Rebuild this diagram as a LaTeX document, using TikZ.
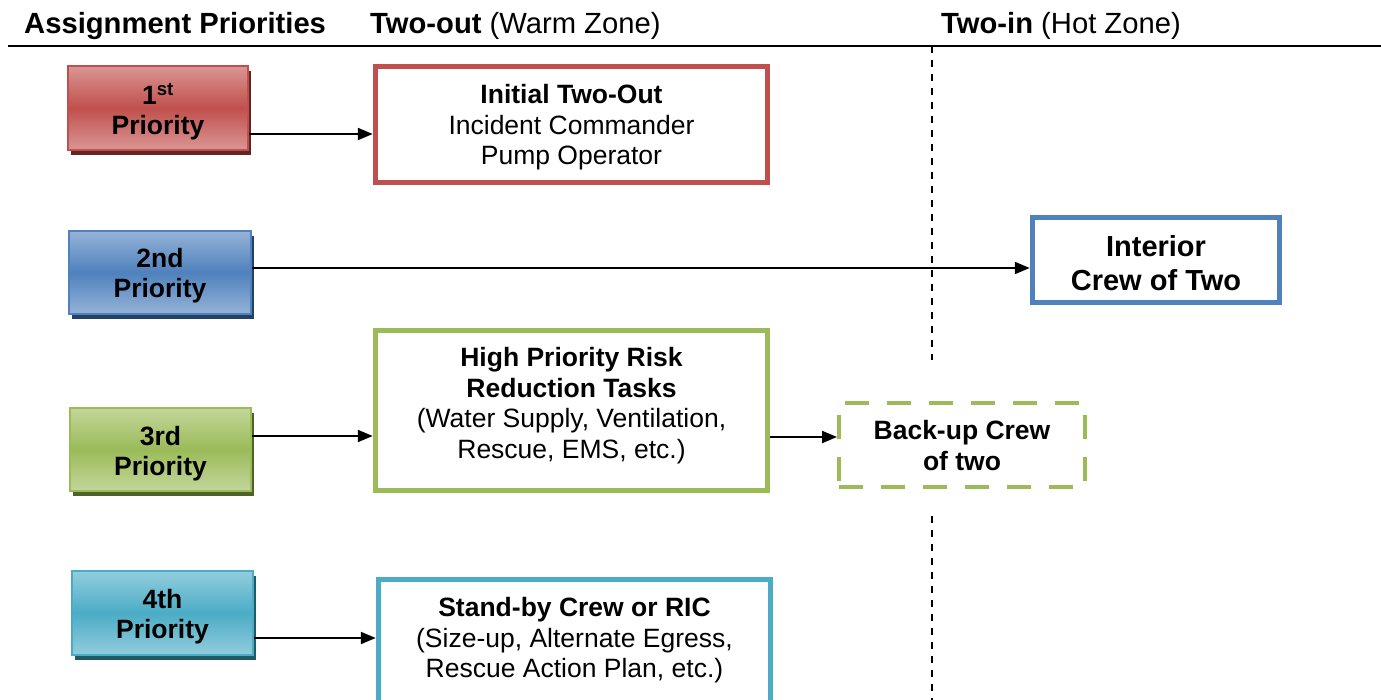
\documentclass[tikz,border=0pt]{standalone}
\usepackage{fontspec}
\setmainfont{Liberation Sans}
\usetikzlibrary{arrows.meta,shadows}
\definecolor{cred}{HTML}{C0504D}
\definecolor{credL}{HTML}{DA9694}
\definecolor{credD}{HTML}{632523}
\definecolor{cblue}{HTML}{4F81BD}
\definecolor{cblueL}{HTML}{95B3D7}
\definecolor{cblueD}{HTML}{244062}
\definecolor{cgreen}{HTML}{9BBB59}
\definecolor{cgreenL}{HTML}{C3D69B}
\definecolor{cgreenD}{HTML}{4F6228}
\definecolor{caqua}{HTML}{4BACC6}
\definecolor{caquaL}{HTML}{92CDDC}
\definecolor{caquaD}{HTML}{215967}
\begin{document}
\begin{tikzpicture}[x=1pt,y=-1pt,
  prio/.style n args={3}{draw=#1,line width=2pt,top color=#2,bottom color=#2,middle color=#1,
    drop shadow={shadow xshift=3pt,shadow yshift=-5pt,fill=#3,opacity=1},
    inner sep=0pt},
  ptxt/.style={align=center,inner sep=0pt,font=\bfseries\fontsize{26.5}{30}\selectfont},
  tbox/.style={draw=#1,line width=5.5pt,fill=white,inner sep=0pt},
  txt/.style={align=center,inner sep=0pt,font=\fontsize{26.5}{30.5}\selectfont},
  arr/.style={line width=2pt,-{Triangle[length=15pt,width=12pt]}},
  hdr/.style={anchor=base west,inner sep=0pt,font=\fontsize{29.2}{32}\selectfont}]
\clip (0,0) rectangle (1381,700);
% header
\node[hdr] (h1) at (24,34) {\textbf{Assignment Priorities}};
\node[hdr] (h2) at (370,34) {\textbf{Two-out} (Warm Zone)};
\node[hdr] (h3) at (941,34) {\textbf{Two-in} (Hot Zone)};
\coordinate (hl1) at (8,46);
\coordinate (hl2) at (1381,46);
\draw[line width=2.5pt] (hl1) -- (hl2);
% dashed zone separator
\coordinate (d1) at (932,46);
\coordinate (d2) at (932,360);
\coordinate (d3) at (932,516);
\coordinate (d4) at (932,700);
\draw[line width=2pt,dash pattern=on 7pt off 7pt] (d1) -- (d2);
\draw[line width=2pt,dash pattern=on 7pt off 7pt] (d3) -- (d4);
% priority boxes
\node[prio={cred}{credL}{credD},minimum width=180pt,minimum height=84pt] (p1) at (158,108) {};
\node[ptxt] (p1x) at (158,112) {1\textsuperscript{st}\\Priority};
\node[prio={cblue}{cblueL}{cblueD},minimum width=182pt,minimum height=83pt] (p2) at (160,272.5) {};
\node[ptxt] (p2x) at (160,275.5) {2nd\\Priority};
\node[prio={cgreen}{cgreenL}{cgreenD},minimum width=181pt,minimum height=83pt] (p3) at (160.5,449.5) {};
\node[ptxt] (p3x) at (160.5,453.5) {3rd\\Priority};
\node[prio={caqua}{caquaL}{caquaD},minimum width=181pt,minimum height=84pt] (p4) at (162.5,613) {};
\node[ptxt] (p4x) at (162.5,617) {4th\\Priority};
% target boxes
\node[tbox=cred,minimum width=392pt,minimum height=116pt] (t1) at (571.5,124.5) {};
\node[txt] (t1x) at (571.5,127.5) {\textbf{Initial Two-Out}\\Incident Commander\\Pump Operator};
\node[tbox=cblue,minimum width=247pt,minimum height=85pt] (t2) at (1156,260) {};
\node[txt,font=\bfseries\fontsize{29}{34}\selectfont] (t2x) at (1156,263) {Interior\\Crew of Two};
\node[tbox=cgreen,minimum width=392pt,minimum height=160pt] (t3) at (571.5,410.5) {};
\node[txt] (t3x) at (571.5,405.5) {\textbf{High Priority Risk}\\\textbf{Reduction Tasks}\\(Water Supply, Ventilation,\\Rescue, EMS, etc.)};
\node[draw=cgreen,line width=4pt,dash pattern=on 24pt off 18pt,fill=white,minimum width=246pt,minimum height=84pt] (b3) at (962,445) {};
\node[txt,font=\bfseries\fontsize{26.5}{31}\selectfont] (b3x) at (962,445.5) {Back-up Crew\\of two};
\node[tbox=caqua,minimum width=392pt,minimum height=126pt] (t4) at (574.5,642.5) {};
\node[txt] (t4x) at (574.5,640.5) {\textbf{Stand-by Crew or RIC}\\(Size-up, Alternate Egress,\\Rescue Action Plan, etc.)};
% connectors
\coordinate (a1) at ([yshift=-26pt]p1.east);
\draw[arr] (a1) -- (a1 -| t1.west);
\coordinate (a2) at ([yshift=4.5pt]p2.east);
\draw[arr] (a2) -- (a2 -| t2.west);
\coordinate (a3) at ([yshift=13.5pt]p3.east);
\draw[arr] (a3) -- (a3 -| t3.west);
\coordinate (a5) at ([yshift=-26.5pt]t3.east);
\draw[arr] (a5) -- (a5 -| b3.west);
\coordinate (a4) at ([yshift=-25pt]p4.east);
\draw[arr] (a4) -- (a4 -| t4.west);
\end{tikzpicture}
\end{document}
